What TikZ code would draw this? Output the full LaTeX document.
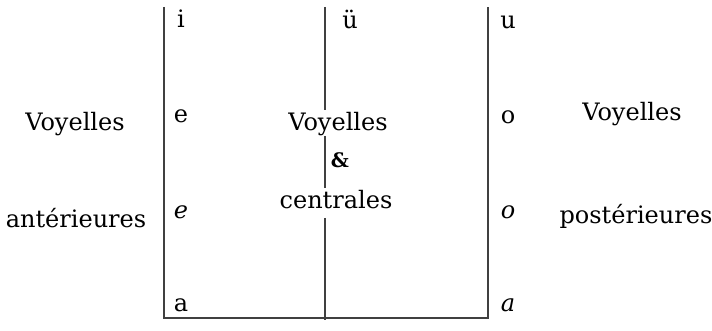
\documentclass[tikz,border=0pt]{standalone}
\usepackage{fontspec}
\setmainfont{DejaVu Serif}
\begin{document}
\begin{tikzpicture}[x=1pt,y=-1pt,
  lbl/.style={inner sep=0pt,font=\fontsize{24}{28}\selectfont},
  small/.style={inner sep=0pt,font=\fontsize{20}{24}\bfseries},
  rule/.style={draw=black!75,line width=1.3pt}]
\useasboundingbox (0,0) rectangle (712,331);
% frame
\coordinate (tl) at (164,7);
\coordinate (bl) at (164,318);
\coordinate (br) at (488,318);
\coordinate (tr) at (488,7);
\draw[rule] (tl) -- (bl) -- (br) -- (tr);
% middle divider
\coordinate (m1) at (325,7);
\coordinate (m2) at (325,110);
\coordinate (m3) at (325,136);
\coordinate (m4) at (325,188);
\coordinate (m5) at (325,218);
\coordinate (m6) at (325,320);
\draw[rule] (m1) -- (m2);
\draw[rule] (m3) -- (m4);
\draw[rule] (m5) -- (m6);
% vowels
\node[lbl] (i) at (181,19) {i};
\node[lbl] (uu) at (350,19) {ü};
\node[lbl] (u) at (508,22) {u};
\node[lbl] (e) at (181,116) {e};
\node[lbl] (o) at (508,117) {o};
\node[lbl] (e2) at (181,212) {\itshape e};
\node[lbl] (o2) at (508,212) {\itshape o};
\node[lbl] (a) at (181,305) {a};
\node[lbl] (a2) at (508,305) {\itshape a};
% labels
\node[lbl] (vc) at (338,124) {Voyelles};
\node[small] (amp) at (340,160) {\&};
\node[lbl] (cen) at (336,200) {centrales};
\node[lbl] (va) at (75,124) {Voyelles};
\node[lbl] (ant) at (76,218) {antérieures};
\node[lbl] (vp) at (632,114) {Voyelles};
\node[lbl] (post) at (636,216) {postérieures};
\end{tikzpicture}
\end{document}
